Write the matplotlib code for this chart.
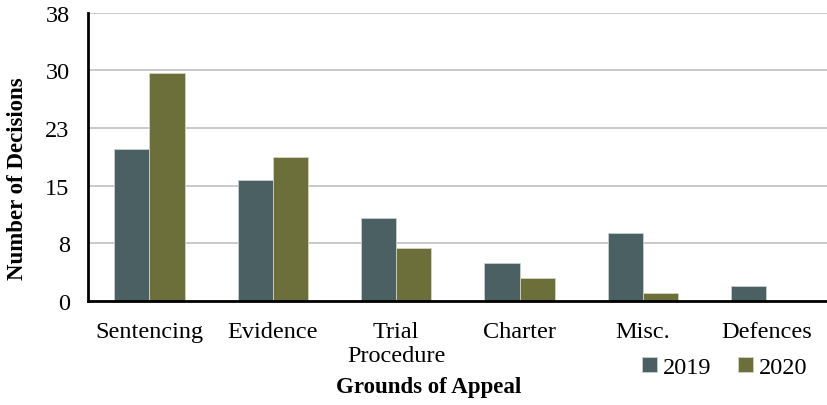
import numpy as np
import matplotlib.pyplot as plt
from matplotlib.ticker import FormatStrFormatter

plt.rcParams['font.family'] = ['Liberation Serif', 'DejaVu Serif']

# Data
categories = ["Sentencing", "Evidence", "Trial\nProcedure", "Charter", "Misc.", "Defences"]
years = ["2019", "2020"]
vals_2019 = [20, 16, 11, 5, 9, 2]
vals_2020 = [30, 19, 7, 3, 1, 0]
y_ticks = np.linspace(0, 38, 6)

colors = ["#4a6063", "#6c6f3a"]

fig = plt.figure(figsize=(8.28, 4.06), dpi=100)
ax = fig.add_axes([0.106, 0.256, 0.894, 0.71])

x = np.arange(len(categories))
w = 0.285
ax.bar(x - w / 2, vals_2019, w, color=colors[0], edgecolor="#c8d0cc", linewidth=0.6,
       label=years[0], zorder=3)
ax.bar(x + w / 2, vals_2020, w, color=colors[1], edgecolor="#d2d4c0", linewidth=0.6,
       label=years[1], zorder=3)

ax.set_xlim(-0.5, len(categories) - 0.5)
ax.set_ylim(0, 38)
ax.set_yticks(y_ticks)
ax.yaxis.set_major_formatter(FormatStrFormatter('%.0f'))
ax.set_xticks(x)
ax.set_xticklabels(categories, fontsize=17.5, linespacing=1.2)
ax.tick_params(axis='y', length=0, pad=13, labelsize=17.5)
ax.tick_params(axis='x', length=0, pad=14)

ax.grid(axis='y', color='#c0c0c0', linewidth=1.2, zorder=0)
ax.set_axisbelow(True)
for s in ['top', 'right']:
    ax.spines[s].set_visible(False)
for s in ['left', 'bottom']:
    ax.spines[s].set_linewidth(2)
    ax.spines[s].set_color('black')
    ax.spines[s].set_zorder(4)

fig.text(0.021, 0.56, "Number of Decisions", rotation=90, fontsize=16.5,
         fontweight='bold', ha='center', va='center')
fig.text(0.518, 0.045, "Grounds of Appeal", fontsize=16.5, fontweight='bold',
         ha='center', va='center')

ax.legend(loc='center right', bbox_to_anchor=(0.995, -0.23), ncol=2, frameon=False,
          fontsize=17.5, handlelength=0.6, handleheight=0.6, handletextpad=0.25,
          columnspacing=1.1, borderpad=0.2)

fig.savefig("out.png", dpi=100)
